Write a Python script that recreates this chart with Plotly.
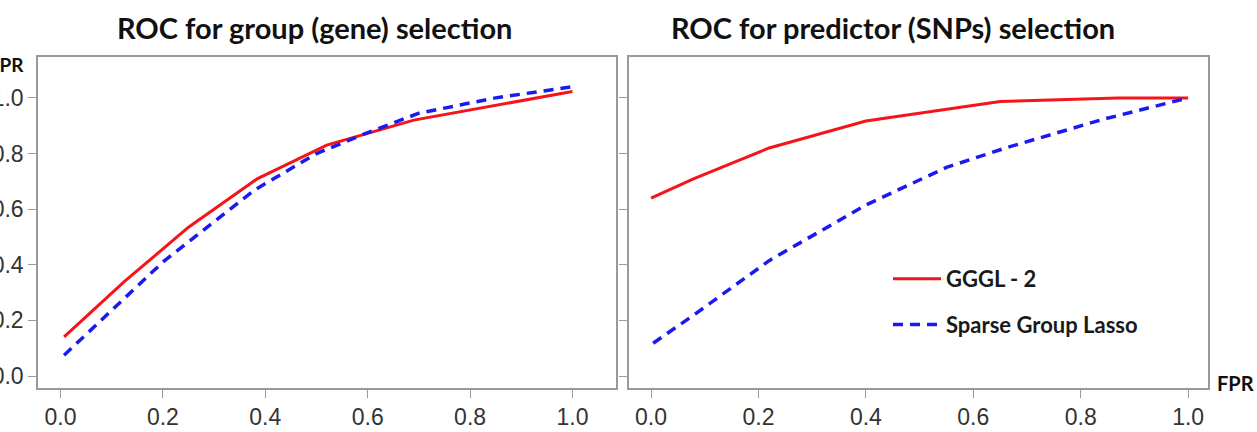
import plotly.graph_objects as go

# ---- data ----
gene_fpr_gggl = [0.007, 0.125, 0.25, 0.385, 0.52, 0.69, 1.0]
gene_tpr_gggl = [0.141, 0.34, 0.535, 0.71, 0.83, 0.92, 1.023]
gene_fpr_sgl = [0.007, 0.2, 0.38, 0.5, 0.6, 0.7, 0.85, 1.0]
gene_tpr_sgl = [0.075, 0.41, 0.67, 0.80, 0.875, 0.945, 1.0, 1.04]

snp_fpr_gggl = [0.0, 0.08, 0.22, 0.40, 0.65, 0.87, 1.0]
snp_tpr_gggl = [0.64, 0.71, 0.82, 0.917, 0.987, 1.0, 1.0]
snp_fpr_sgl = [0.004, 0.08, 0.22, 0.40, 0.55, 0.66, 0.84, 1.0]
snp_tpr_sgl = [0.118, 0.22, 0.415, 0.615, 0.75, 0.82, 0.922, 1.0]

tick_vals = [0.0, 0.2, 0.4, 0.6, 0.8, 1.0]
tick_text = ["0.0", "0.2", "0.4", "0.6", "0.8", "1.0"]
series_names = ["GGGL - 2", "Sparse Group Lasso"]
titles = ["ROC for group (gene) selection", "ROC for predictor (SNPs) selection"]

W, H = 1257, 432
RED = "#F5141A"
BLUE = "#1A1AF0"
FRAME = "#9A9A9A"
TICKFONT = dict(family="Liberation Sans, Arial", size=23, color="#333333")
BOLD = "Lato, Calibri, sans-serif"

fig = go.Figure()

fig.add_trace(go.Scatter(x=gene_fpr_gggl, y=gene_tpr_gggl, mode="lines",
                         line=dict(color=RED, width=3), showlegend=False,
                         xaxis="x", yaxis="y"))
fig.add_trace(go.Scatter(x=gene_fpr_sgl, y=gene_tpr_sgl, mode="lines",
                         line=dict(color=BLUE, width=3.5, dash="10px,7px"), showlegend=False,
                         xaxis="x", yaxis="y"))
fig.add_trace(go.Scatter(x=snp_fpr_gggl, y=snp_tpr_gggl, mode="lines", name=series_names[0],
                         legendgroup="a",
                         line=dict(color=RED, width=3), xaxis="x2", yaxis="y2"))
fig.add_trace(go.Scatter(x=snp_fpr_sgl, y=snp_tpr_sgl, mode="lines", name=series_names[1],
                         legendgroup="b",
                         line=dict(color=BLUE, width=3.5, dash="10px,7px"), xaxis="x2", yaxis="y2"))

x1 = [38 / W, 616 / W]
x2 = [629 / W, 1208 / W]
yd = [(H - 388) / H, (H - 57) / H]

axis_common = dict(showgrid=False, zeroline=False, showline=True, mirror=True,
                   linecolor=FRAME, linewidth=1.5, ticks="outside", ticklen=8,
                   tickwidth=1.2, tickcolor=FRAME, tickvals=tick_vals, ticktext=tick_text,
                   tickfont=TICKFONT, automargin=False)

fig.update_layout(
    width=W, height=H,
    margin=dict(l=0, r=0, t=0, b=0, autoexpand=False),
    paper_bgcolor="white", plot_bgcolor="white",
    xaxis=dict(domain=x1, range=[-0.044, 1.085], anchor="y", **axis_common),
    yaxis=dict(domain=yd, range=[-0.043, 1.147], anchor="x", **axis_common),
    xaxis2=dict(domain=x2, range=[-0.041, 1.037], anchor="y2", **axis_common),
    yaxis2=dict(domain=yd, range=[-0.043, 1.147], anchor="x2", **{**axis_common, "showticklabels": False}),
    showlegend=True,
    legend=dict(x=(888) / W, y=(H - 258) / H, xanchor="left", yanchor="top",
                bgcolor="rgba(0,0,0,0)", font=dict(family=BOLD, size=22, color="#1a1a1a", weight="bold"),
                tracegroupgap=14, traceorder="grouped", itemwidth=48),
    annotations=[
        dict(text="<b>" + titles[0] + "</b>", x=314 / W, y=(H - 27) / H, xref="paper", yref="paper",
             showarrow=False, xanchor="center", yanchor="middle",
             font=dict(family=BOLD, size=29, color="#111111")),
        dict(text="<b>" + titles[1] + "</b>", x=893 / W, y=(H - 27) / H, xref="paper", yref="paper",
             showarrow=False, xanchor="center", yanchor="middle",
             font=dict(family=BOLD, size=29, color="#111111")),
        dict(text="<b>TPR</b>", x=26 / W, y=(H - 64) / H, xref="paper", yref="paper",
             showarrow=False, xanchor="right", yanchor="middle",
             font=dict(family=BOLD, size=19, color="#111111")),
        dict(text="<b>FPR</b>", x=1215 / W, y=(H - 383) / H, xref="paper", yref="paper",
             showarrow=False, xanchor="left", yanchor="middle",
             font=dict(family=BOLD, size=20, color="#111111")),
    ],
)

fig.write_html("out.html")
